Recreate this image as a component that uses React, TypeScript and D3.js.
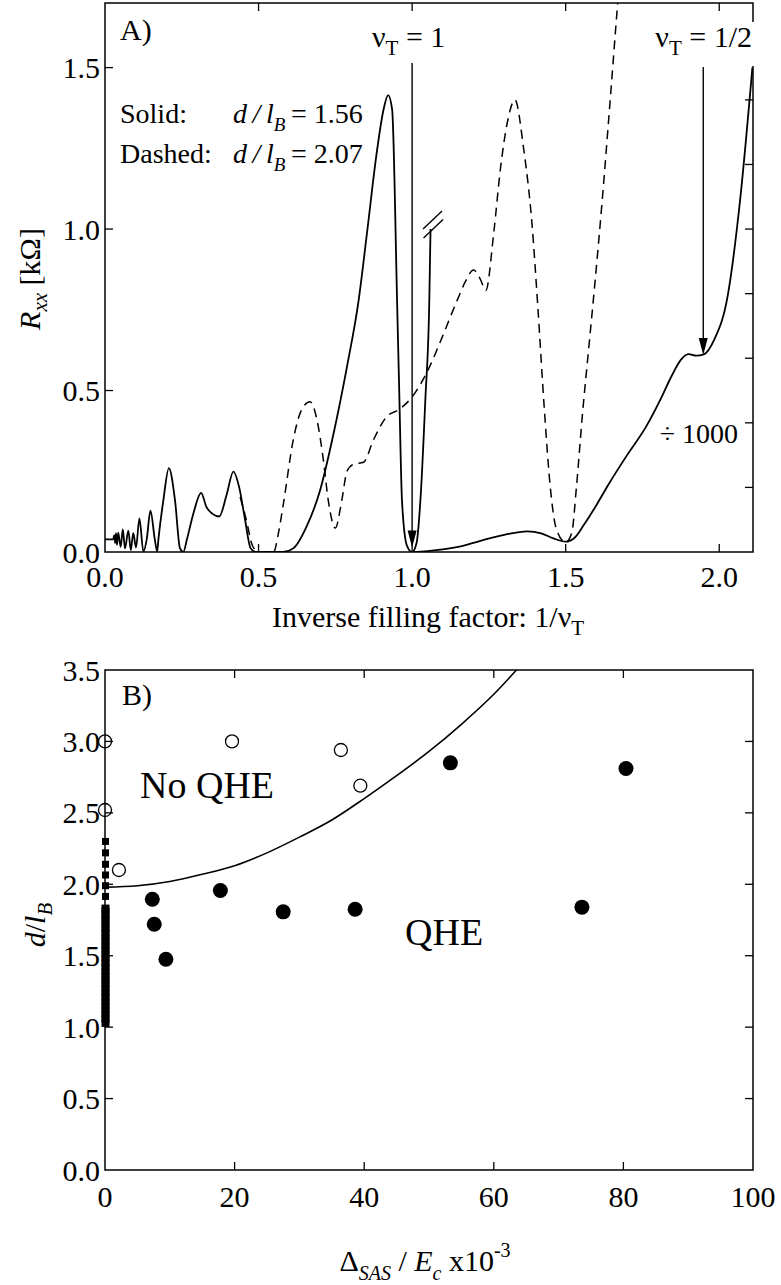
import React from "react";
import * as d3 from "d3";

// ---------- Panel A: longitudinal resistance vs inverse filling factor ----------
// Solid trace (d/lB = 1.56), real scale, up to the axis break past nu_T = 1
const solidLowField: [number, number][] = [
  [0.0, 0.039], [0.02, 0.039], [0.027, 0.04], [0.03, 0.052], [0.033, 0.028],
  [0.036, 0.058], [0.039, 0.022], [0.043, 0.06], [0.051, 0.016], [0.058, 0.07],
  [0.065, 0.011], [0.076, 0.066], [0.084, 0.006], [0.092, 0.058], [0.101, 0.014],
  [0.112, 0.104], [0.125, 0.001], [0.136, 0.04], [0.148, 0.128], [0.162, 0.04],
  [0.17, 0.002], [0.174, 0.04], [0.19, 0.16], [0.208, 0.26], [0.228, 0.16],
  [0.244, 0.012], [0.255, 0.0], [0.267, 0.04], [0.288, 0.12], [0.313, 0.183],
  [0.33, 0.14], [0.35, 0.118], [0.372, 0.11], [0.396, 0.177], [0.418, 0.249],
  [0.437, 0.2], [0.455, 0.106], [0.474, 0.012], [0.49, 0.0], [0.58, 0.0],
  [0.614, 0.012], [0.657, 0.08], [0.7, 0.19], [0.745, 0.37], [0.788, 0.574],
  [0.826, 0.78], [0.853, 0.987], [0.886, 1.245], [0.907, 1.37], [0.922, 1.415],
  [0.935, 1.37], [0.951, 0.78], [0.958, 0.5], [0.967, 0.16], [0.983, 0.02],
  [1.0, 0.0], [1.015, 0.03], [1.027, 0.16], [1.043, 0.47], [1.056, 0.78],
  [1.06, 1.0],
];

// Solid trace past the break, divided by 1000
const solidHighField: [number, number][] = [
  [1.0, 0.0], [1.05, 0.003], [1.1, 0.008], [1.15, 0.016], [1.22, 0.034],
  [1.3, 0.053], [1.375, 0.064], [1.42, 0.058], [1.46, 0.042], [1.5, 0.032],
  [1.53, 0.045], [1.56, 0.085], [1.6, 0.145], [1.64, 0.21], [1.7, 0.3],
  [1.76, 0.385], [1.81, 0.475], [1.845, 0.545], [1.875, 0.595], [1.9, 0.613],
  [1.925, 0.608], [1.95, 0.612], [1.983, 0.656], [2.027, 0.79], [2.068, 1.09],
  [2.108, 1.5],
];

// Dashed trace (d/lB = 2.07)
const dashedTrace: [number, number][] = [
  [0.44, 0.17], [0.46, 0.1], [0.48, 0.02], [0.5, 0.0], [0.549, 0.0],
  [0.565, 0.06], [0.581, 0.15], [0.613, 0.347], [0.64, 0.44], [0.668, 0.465],
  [0.69, 0.41], [0.711, 0.285], [0.727, 0.16], [0.75, 0.074], [0.771, 0.16],
  [0.788, 0.25], [0.81, 0.272], [0.842, 0.278], [0.874, 0.347], [0.918, 0.42],
  [0.955, 0.44], [1.0, 0.48], [1.06, 0.58], [1.1, 0.67], [1.147, 0.78],
  [1.175, 0.84], [1.2, 0.873], [1.222, 0.845], [1.24, 0.81], [1.266, 0.99],
  [1.288, 1.19], [1.31, 1.33], [1.335, 1.4], [1.363, 1.25], [1.39, 1.02],
  [1.41, 0.75], [1.43, 0.45], [1.45, 0.2], [1.47, 0.07], [1.5, 0.03],
  [1.52, 0.06], [1.535, 0.2], [1.555, 0.43], [1.575, 0.63], [1.595, 0.83],
  [1.62, 1.1], [1.645, 1.4], [1.67, 1.71],
];

const topXTicks = [0, 0.5, 1.0, 1.5, 2.0];
const topYTicks = [0, 0.5, 1.0, 1.5];
const topRightTicks = [0.2, 0.4, 0.6, 0.8, 1.0, 1.2, 1.4, 1.6];

// Filling-factor markers: [position, arrow start, arrow tip]
const nuOneArrow = [1.0, 1.514, 0.014];
const nuHalfArrow = [1.948, 1.502, 0.61];

// ---------- Panel B: phase diagram ----------
const boundaryCurve: [number, number][] = [
  [0, 1.98], [5, 1.99], [10, 2.02], [15, 2.07], [20, 2.13], [25, 2.22],
  [30, 2.33], [35, 2.45], [40, 2.6], [45, 2.76], [50, 2.93], [55, 3.12],
  [60, 3.33], [63.5, 3.5],
];
const noQheSamples: [number, number][] = [
  [0, 3.0], [0, 2.52], [2.15, 2.1], [19.6, 3.0], [36.4, 2.94], [39.4, 2.69],
];
const qheSamples: [number, number][] = [
  [7.3, 1.895], [7.6, 1.72], [9.4, 1.475], [17.8, 1.956], [27.5, 1.807],
  [38.6, 1.825], [53.3, 2.85], [73.6, 1.84], [80.4, 2.81],
];
// Zero-tunnelling samples along the vertical axis
const zeroGapSparse = [2.3, 2.22, 2.14, 2.065, 1.99, 1.915];
const zeroGapDense = [
  1.03, 1.06, 1.09, 1.12, 1.15, 1.18, 1.21, 1.24, 1.27, 1.3, 1.33, 1.36, 1.39,
  1.42, 1.45, 1.48, 1.51, 1.54, 1.57, 1.6, 1.63, 1.66, 1.69, 1.72, 1.75, 1.78,
  1.81, 1.83,
];
const botXTicks = [0, 20, 40, 60, 80, 100];
const botYTicks = [0, 0.5, 1.0, 1.5, 2.0, 2.5, 3.0, 3.5];

const FONT = "Liberation Serif, Times New Roman, serif";
const TICK = 8;

export default function App() {
  const xA = d3.scaleLinear().domain([0, 2.11]).range([105, 753]);
  const yA = d3.scaleLinear().domain([0, 1.7]).range([552, 3]);
  const xB = d3.scaleLinear().domain([0, 100]).range([105, 753]);
  const yB = d3.scaleLinear().domain([0, 3.5]).range([1170, 670]);

  const lineA = d3
    .line<[number, number]>()
    .x((d) => xA(d[0]))
    .y((d) => yA(d[1]))
    .curve(d3.curveMonotoneX);
  const lineB = d3
    .line<[number, number]>()
    .x((d) => xB(d[0]))
    .y((d) => yB(d[1]))
    .curve(d3.curveMonotoneX);

  const [ax0, ax1] = xA.range();
  const [ay0, ay1] = yA.range();
  const [bx0, bx1] = xB.range();
  const [by0, by1] = yB.range();

  const breakEnd = solidLowField[solidLowField.length - 1];
  const bpx = xA(breakEnd[0]);
  const bpy = yA(breakEnd[1]);

  const arrow = (a: number[]) => {
    const x = xA(a[0]);
    const y1 = yA(a[1]);
    const y2 = yA(a[2]);
    return (
      <g>
        <line x1={x} x2={x} y1={y1} y2={y2 - 14} stroke="#000" strokeWidth={1.4} />
        <polygon points={`${x - 4.5},${y2 - 17} ${x + 4.5},${y2 - 17} ${x},${y2}`} fill="#000" />
      </g>
    );
  };

  const txt = { fontFamily: FONT };

  return (
    <svg
      width={781}
      height={1285}
      style={{ position: "absolute", left: 0, top: 0, background: "#fff", fontFamily: FONT }}
    >
      <rect x={0} y={0} width={781} height={1285} fill="#fff" />
      <defs>
        <clipPath id="clipA">
          <rect x={ax0} y={ay1} width={ax1 - ax0} height={ay0 - ay1} />
        </clipPath>
      </defs>

      {/* ===== Panel A ===== */}
      <g clipPath="url(#clipA)">
        <path d={lineA(dashedTrace) || ""} fill="none" stroke="#000" strokeWidth={1.5} strokeDasharray="9,6" />
        <path d={lineA(solidLowField) || ""} fill="none" stroke="#000" strokeWidth={1.8} />
        <path d={lineA(solidHighField) || ""} fill="none" stroke="#000" strokeWidth={1.8} />
      </g>

      {/* axis break marks */}
      <line x1={bpx - 7.5} y1={bpy} x2={bpx + 11.5} y2={bpy - 18} stroke="#000" strokeWidth={1.4} />
      <line x1={bpx - 7} y1={bpy + 9} x2={bpx + 12.5} y2={bpy - 9.5} stroke="#000" strokeWidth={1.4} />

      {arrow(nuOneArrow)}
      {arrow(nuHalfArrow)}

      {/* frame and ticks */}
      <rect x={ax0} y={ay1} width={ax1 - ax0} height={ay0 - ay1} fill="none" stroke="#000" strokeWidth={1.5} />
      {topXTicks.filter((t) => t > 0).map((t) => (
        <g key={"axt" + t}>
          <line x1={xA(t)} x2={xA(t)} y1={ay0} y2={ay0 - TICK} stroke="#000" strokeWidth={1.3} />
          <line x1={xA(t)} x2={xA(t)} y1={ay1} y2={ay1 + TICK} stroke="#000" strokeWidth={1.3} />
        </g>
      ))}
      {topYTicks.filter((t) => t > 0).map((t) => (
        <line key={"ayt" + t} x1={ax0} x2={ax0 + TICK} y1={yA(t)} y2={yA(t)} stroke="#000" strokeWidth={1.3} />
      ))}
      {topRightTicks.map((t) => (
        <line key={"art" + t} x1={ax1} x2={ax1 - TICK} y1={yA(t)} y2={yA(t)} stroke="#000" strokeWidth={1.3} />
      ))}

      {/* nu_T = 1/2 label sits on a white patch over the frame */}
      <rect x={648} y={22} width={110} height={44} fill="#fff" />
      <text x={752} y={47} fontSize={30} textAnchor="end" style={txt}>
        ν<tspan fontSize={21} dy={8}>T</tspan>
        <tspan dy={-8}> = 1/2</tspan>
      </text>
      <text x={372} y={47} fontSize={30} style={txt}>
        ν<tspan fontSize={21} dy={8}>T</tspan>
        <tspan dy={-8}> = 1</tspan>
      </text>

      {topXTicks.map((t) => (
        <text key={"axl" + t} x={xA(t)} y={587} fontSize={30} textAnchor="middle" style={txt}>
          {t.toFixed(1)}
        </text>
      ))}
      {topYTicks.map((t) => (
        <text key={"ayl" + t} x={100} y={yA(t) + 10.5} fontSize={30} textAnchor="end" style={txt}>
          {t.toFixed(1)}
        </text>
      ))}

      <text x={120} y={40} fontSize={30} style={txt}>A)</text>
      <text x={120} y={123} fontSize={28} style={txt}>Solid:</text>
      <text x={233} y={123} fontSize={28} style={txt}>
        <tspan fontStyle="italic">{"d\u2009/\u2009l"}</tspan>
        <tspan fontStyle="italic" fontSize={19} dy={8}>B</tspan>
        <tspan dy={-8}>{"\u2009= 1.56"}</tspan>
      </text>
      <text x={120} y={163} fontSize={28} style={txt}>Dashed:</text>
      <text x={233} y={163} fontSize={28} style={txt}>
        <tspan fontStyle="italic">{"d\u2009/\u2009l"}</tspan>
        <tspan fontStyle="italic" fontSize={19} dy={8}>B</tspan>
        <tspan dy={-8}>{"\u2009= 2.07"}</tspan>
      </text>
      <text x={738} y={443} fontSize={28} textAnchor="end" style={txt}>÷ 1000</text>

      <text x={428} y={627} fontSize={30} textAnchor="middle" style={txt}>
        Inverse filling factor: 1/ν<tspan fontSize={21} dy={8}>T</tspan>
      </text>
      <text transform="translate(40,279) rotate(-90)" fontSize={30} textAnchor="middle" style={txt}>
        <tspan fontStyle="italic">R</tspan>
        <tspan fontStyle="italic" fontSize={21} dy={7}>xx</tspan>
        <tspan dy={-7}> [kΩ]</tspan>
      </text>

      {/* ===== Panel B ===== */}
      <path d={lineB(boundaryCurve) || ""} fill="none" stroke="#000" strokeWidth={1.6} />
      {zeroGapDense.map((v) => (
        <rect key={"zd" + v} x={xB(0) - 3.5} y={yB(v) - 4} width={8} height={8} fill="#000" />
      ))}
      {zeroGapSparse.map((v) => (
        <rect key={"zs" + v} x={xB(0) - 3} y={yB(v) - 3.5} width={7} height={7} fill="#000" />
      ))}
      {noQheSamples.map((d, i) => (
        <circle key={"o" + i} cx={xB(d[0])} cy={yB(d[1])} r={6.5} fill="#fff" stroke="#000" strokeWidth={1.3} />
      ))}
      {qheSamples.map((d, i) => (
        <circle key={"f" + i} cx={xB(d[0])} cy={yB(d[1])} r={7.5} fill="#000" />
      ))}

      <rect x={bx0} y={by1} width={bx1 - bx0} height={by0 - by1} fill="none" stroke="#000" strokeWidth={1.5} />
      {botXTicks.filter((t) => t > 0 && t < 100).map((t) => (
        <g key={"bxt" + t}>
          <line x1={xB(t)} x2={xB(t)} y1={by0} y2={by0 - TICK} stroke="#000" strokeWidth={1.3} />
          <line x1={xB(t)} x2={xB(t)} y1={by1} y2={by1 + TICK} stroke="#000" strokeWidth={1.3} />
        </g>
      ))}
      {botYTicks.filter((t) => t > 0 && t < 3.5).map((t) => (
        <g key={"byt" + t}>
          <line x1={bx0} x2={bx0 + TICK} y1={yB(t)} y2={yB(t)} stroke="#000" strokeWidth={1.3} />
          <line x1={bx1} x2={bx1 - TICK} y1={yB(t)} y2={yB(t)} stroke="#000" strokeWidth={1.3} />
        </g>
      ))}
      {botXTicks.map((t) => (
        <text key={"bxl" + t} x={xB(t)} y={1207} fontSize={30} textAnchor="middle" style={txt}>
          {t}
        </text>
      ))}
      {botYTicks.map((t) => (
        <text key={"byl" + t} x={100} y={yB(t) + 10.5} fontSize={30} textAnchor="end" style={txt}>
          {t.toFixed(1)}
        </text>
      ))}

      <text x={122} y={705} fontSize={30} style={txt}>B)</text>
      <text x={140} y={798} fontSize={38} style={txt}>No QHE</text>
      <text x={405} y={945} fontSize={38} style={txt}>QHE</text>

      <text x={425} y={1271} fontSize={30} textAnchor="middle" style={txt}>
        Δ<tspan fontStyle="italic" fontSize={20} dy={9}>SAS</tspan>
        <tspan dy={-9}> / </tspan>
        <tspan fontStyle="italic">E</tspan>
        <tspan fontStyle="italic" fontSize={20} dy={9}>c</tspan>
        <tspan dy={-9}> x10</tspan>
        <tspan fontSize={20} dy={-14}>-3</tspan>
      </text>
      <text transform="translate(45,925) rotate(-90)" fontSize={30} textAnchor="middle" style={txt}>
        <tspan fontStyle="italic">d</tspan>
        <tspan>/</tspan>
        <tspan fontStyle="italic">l</tspan>
        <tspan fontStyle="italic" fontSize={21} dy={7}>B</tspan>
      </text>
    </svg>
  );
}
